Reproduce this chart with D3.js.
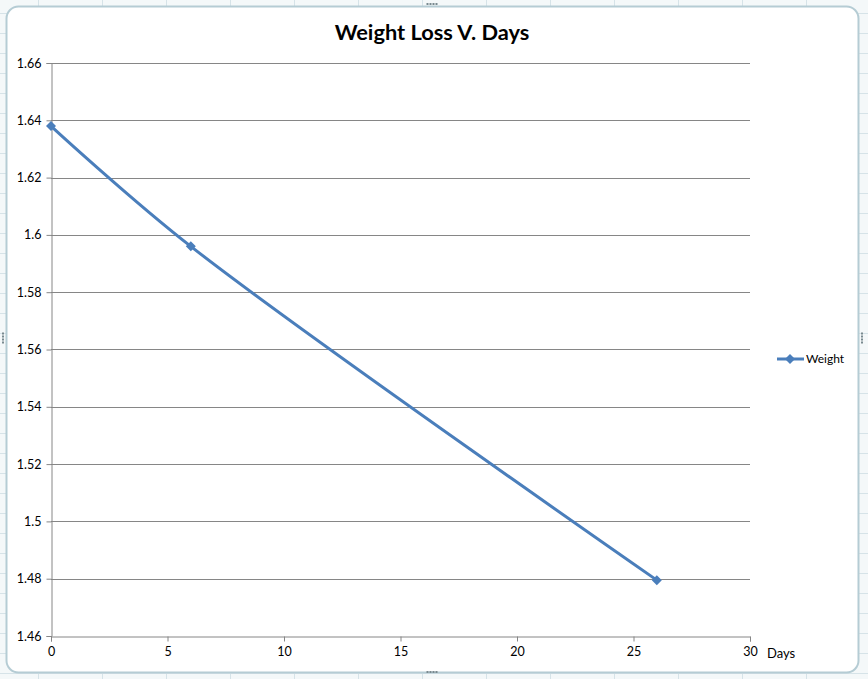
<!DOCTYPE html>
<html><head><meta charset="utf-8">
<script src="https://cdn.jsdelivr.net/npm/d3@7"></script>
<style>html,body{margin:0;padding:0;background:#fff;}svg{display:block;}</style>
</head><body>
<svg id="c" width="868" height="679"></svg>
<script>
const days = [0, 6, 26];
const weight = [1.638, 1.596, 1.4795];
const xTicks = [0, 5, 10, 15, 20, 25, 30];
const yTicks = [1.46, 1.48, 1.5, 1.52, 1.54, 1.56, 1.58, 1.6, 1.62, 1.64, 1.66];
const seriesName = "Weight";
const title = "Weight Loss V. Days";
const xTitle = "Days";

const svg = d3.select("#c");
const W = 868, H = 679;
const font = "Lato, 'Open Sans', sans-serif";

// spreadsheet background
svg.append("rect").attr("width", W).attr("height", H).attr("fill", "#f4f8f9");
const bg = svg.append("g").attr("stroke", "#d6e3e8").attr("stroke-width", 1);
d3.range(38, W, 64).forEach(x => bg.append("line").attr("x1", x + 0.5).attr("x2", x + 0.5).attr("y1", 0).attr("y2", H));
d3.range(13, H, 20).forEach(y => bg.append("line").attr("y1", y + 0.5).attr("y2", y + 0.5).attr("x1", 0).attr("x2", W));

// chart frame
svg.append("rect").attr("x", 6.5).attr("y", 6.5).attr("width", 852).attr("height", 666)
  .attr("rx", 12).attr("fill", "#fff").attr("stroke", "#b5ccd4").attr("stroke-width", 2);
// handles
const handles = [[432, 4, true], [432, 672, true], [862, 338, false], [3, 338, false]];
handles.forEach(([cx, cy, hor]) => {
  for (let i = -1.5; i <= 1.5; i++) {
    svg.append("rect").attr("x", hor ? cx + i * 3 - 1 : cx - 1).attr("y", hor ? cy - 1 : cy + i * 3 - 1)
      .attr("width", 2).attr("height", 2).attr("fill", "#7a8a90");
  }
});

const m = {l: 51, r: 750, t: 63, b: 636};
const x = d3.scaleLinear().domain([0, 30]).range([m.l, m.r]);
const y = d3.scaleLinear().domain([1.46, 1.66]).range([m.b, m.t]);

// gridlines
svg.append("g").selectAll("line").data(yTicks.filter(v => v > 1.46)).join("line")
  .attr("x1", m.l).attr("x2", m.r)
  .attr("y1", d => Math.round(y(d)) + 0.5).attr("y2", d => Math.round(y(d)) + 0.5)
  .attr("stroke", "#868686").attr("stroke-width", 1);

// axes
const yAxis = d3.axisLeft(y).tickValues(yTicks).tickSize(5).tickPadding(5)
  .tickFormat(d => d3.format("")(+d.toFixed(2)));
const gy = svg.append("g").attr("transform", `translate(${m.l + 0.5},0)`).call(yAxis);
const xAxis = d3.axisBottom(x).tickValues(xTicks).tickSize(5).tickPadding(6).tickFormat(d3.format("d"));
const gx = svg.append("g").attr("transform", `translate(0,${m.b + 0.5})`).call(xAxis);
[gx, gy].forEach(g => {
  g.select(".domain").attr("stroke", "#868686");
  g.selectAll(".tick line").attr("stroke", "#868686");
  g.selectAll("text").attr("font-family", font).attr("font-size", 12.5).attr("fill", "#000");
});

// line
const pts = days.map((d, i) => [d, weight[i]]);
const line = d3.line().x(d => x(d[0])).y(d => y(d[1])).curve(d3.curveCatmullRom.alpha(0.5));
svg.append("path").datum(pts).attr("d", line).attr("fill", "none")
  .attr("stroke", "#4a7ebb").attr("stroke-width", 3).attr("stroke-linejoin", "round");
const diamond = "M0,-5L5,0L0,5L-5,0Z";
svg.append("g").selectAll("path").data(pts).join("path")
  .attr("d", diamond).attr("transform", d => `translate(${x(d[0])},${y(d[1])})`)
  .attr("fill", "#4a7ebb");

// title
svg.append("text").attr("x", 432).attr("y", 40).attr("text-anchor", "middle")
  .attr("font-family", font).attr("font-weight", "bold").attr("font-size", 21.8).text(title);
// x title
svg.append("text").attr("x", 767).attr("y", 658).attr("font-family", font)
  .attr("font-size", 13).text(xTitle);

// legend
svg.append("line").attr("x1", 777).attr("x2", 804).attr("y1", 359).attr("y2", 359)
  .attr("stroke", "#4a7ebb").attr("stroke-width", 3);
svg.append("path").attr("d", diamond).attr("transform", "translate(790,359)").attr("fill", "#4a7ebb");
svg.append("text").attr("x", 806).attr("y", 363).attr("font-family", font)
  .attr("font-size", 12).text(seriesName);
</script>
</body></html>
